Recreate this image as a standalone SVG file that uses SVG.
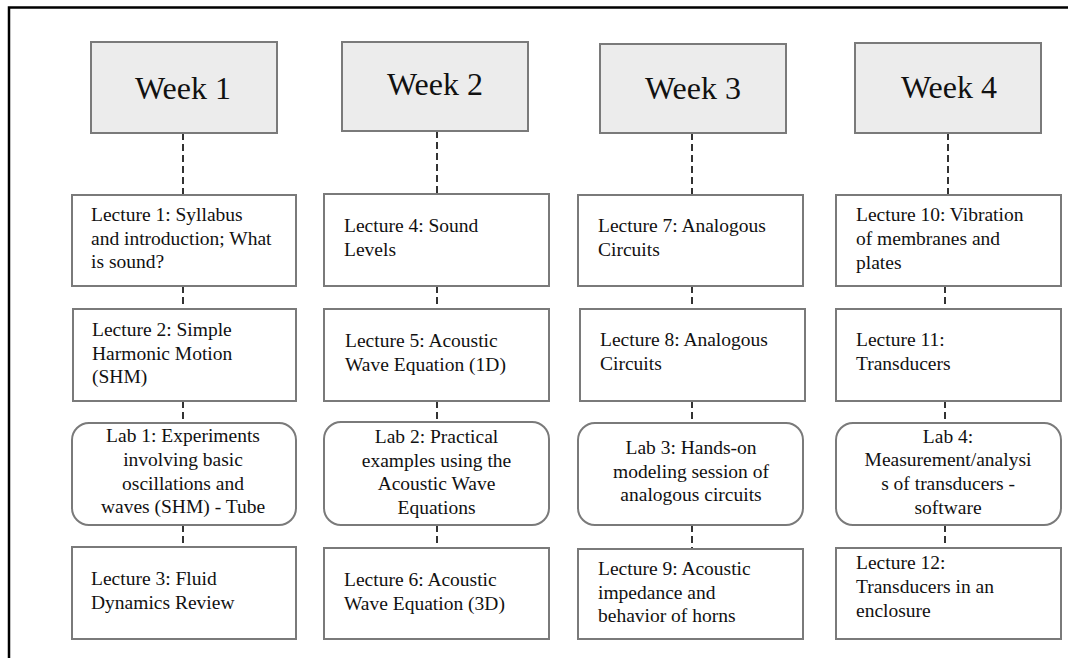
<svg xmlns="http://www.w3.org/2000/svg" width="1068" height="658" viewBox="0 0 1068 658" font-family="Liberation Serif, Times New Roman, serif">
  <style>
    .week { fill: #ececec; stroke: #7a7a7a; stroke-width: 2; }
    .box { fill: #ffffff; stroke: #7a7a7a; stroke-width: 2; }
    .wk { font-size: 32px; fill: #111; text-anchor: middle; }
    .t { font-size: 19.5px; fill: #111; }
    .c { text-anchor: middle; }
    .link { stroke: #333; stroke-width: 2; stroke-dasharray: 7 4; fill: none; }
  </style>
  <rect width="1068" height="658" fill="#ffffff"/>

  <!-- page frame -->
  <path d="M9 658 V7.5 H1068" fill="none" stroke="#000" stroke-width="2.5"/>

  <!-- dashed connectors -->
  <g id="connectors">
    <line class="link" x1="183" y1="133" x2="183" y2="195"/>
    <line class="link" x1="183" y1="286" x2="183" y2="309"/>
    <line class="link" x1="183" y1="401" x2="183" y2="423"/>
    <line class="link" x1="183" y1="525" x2="183" y2="547"/>

    <line class="link" x1="437" y1="131" x2="437" y2="194"/>
    <line class="link" x1="437" y1="286" x2="437" y2="309"/>
    <line class="link" x1="437" y1="401" x2="437" y2="422"/>
    <line class="link" x1="437" y1="525" x2="437" y2="548"/>

    <line class="link" x1="692" y1="133" x2="692" y2="195"/>
    <line class="link" x1="692" y1="286" x2="692" y2="309"/>
    <line class="link" x1="692" y1="401" x2="692" y2="423"/>
    <line class="link" x1="692" y1="525" x2="692" y2="549"/>

    <line class="link" x1="948" y1="133" x2="948" y2="195"/>
    <line class="link" x1="945" y1="286" x2="945" y2="309"/>
    <line class="link" x1="945" y1="401" x2="945" y2="423"/>
    <line class="link" x1="945" y1="525" x2="945" y2="548"/>
  </g>

  <!-- week headers -->
  <g id="week1"><rect class="week" x="91" y="42" width="186" height="91"/><text class="wk" x="183" y="99" font-family="Liberation Serif">Week 1</text></g>
  <g id="week2"><rect class="week" x="342" y="42" width="186" height="89"/><text class="wk" x="435" y="95" font-family="Liberation Serif">Week 2</text></g>
  <g id="week3"><rect class="week" x="600" y="44" width="186" height="89"/><text class="wk" x="693" y="99" font-family="Liberation Serif">Week 3</text></g>
  <g id="week4"><rect class="week" x="855" y="43" width="186" height="90"/><text class="wk" x="949" y="98" font-family="Liberation Serif">Week 4</text></g>

  <!-- week 1 -->
  <g id="lecture1"><rect class="box" x="72" y="195" width="224" height="91"/>
    <text class="t" x="91" y="221">Lecture 1: Syllabus</text>
    <text class="t" x="91" y="244.5">and introduction; What</text>
    <text class="t" x="91" y="268">is sound?</text></g>
  <g id="lecture2"><rect class="box" x="73" y="309" width="223" height="92"/>
    <text class="t" x="92" y="336">Lecture 2: Simple</text>
    <text class="t" x="92" y="359.5">Harmonic Motion</text>
    <text class="t" x="92" y="383">(SHM)</text></g>
  <g id="lab1"><rect class="box" x="72" y="423" width="224" height="102" rx="17"/>
    <text class="t c" x="183" y="442">Lab 1: Experiments</text>
    <text class="t c" x="183" y="465.5">involving basic</text>
    <text class="t c" x="183" y="489.5">oscillations and</text>
    <text class="t c" x="183" y="513">waves (SHM) - Tube</text></g>
  <g id="lecture3"><rect class="box" x="72" y="547" width="224" height="92"/>
    <text class="t" x="91" y="585">Lecture 3: Fluid</text>
    <text class="t" x="91" y="609">Dynamics Review</text></g>

  <!-- week 2 -->
  <g id="lecture4"><rect class="box" x="324" y="194" width="225" height="92"/>
    <text class="t" x="344" y="232">Lecture 4: Sound</text>
    <text class="t" x="344" y="256">Levels</text></g>
  <g id="lecture5"><rect class="box" x="324" y="309" width="225" height="92"/>
    <text class="t" x="345" y="347">Lecture 5: Acoustic</text>
    <text class="t" x="345" y="371">Wave Equation (1D)</text></g>
  <g id="lab2"><rect class="box" x="324" y="422" width="225" height="103" rx="17"/>
    <text class="t c" x="436.5" y="443">Lab 2: Practical</text>
    <text class="t c" x="436.5" y="466.5">examples using the</text>
    <text class="t c" x="436.5" y="490">Acoustic Wave</text>
    <text class="t c" x="436.5" y="513.5">Equations</text></g>
  <g id="lecture6"><rect class="box" x="324" y="548" width="225" height="91"/>
    <text class="t" x="344" y="586">Lecture 6: Acoustic</text>
    <text class="t" x="344" y="610">Wave Equation (3D)</text></g>

  <!-- week 3 -->
  <g id="lecture7"><rect class="box" x="578" y="195" width="225" height="91"/>
    <text class="t" x="598" y="232">Lecture 7: Analogous</text>
    <text class="t" x="598" y="255.5">Circuits</text></g>
  <g id="lecture8"><rect class="box" x="580" y="309" width="225" height="92"/>
    <text class="t" x="600" y="346">Lecture 8: Analogous</text>
    <text class="t" x="600" y="369.5">Circuits</text></g>
  <g id="lab3"><rect class="box" x="578" y="423" width="225" height="102" rx="17"/>
    <text class="t c" x="691" y="453.5">Lab 3: Hands-on</text>
    <text class="t c" x="691" y="477.5">modeling session of</text>
    <text class="t c" x="691" y="501">analogous circuits</text></g>
  <g id="lecture9"><rect class="box" x="578" y="549" width="225" height="90"/>
    <text class="t" x="598" y="574.5">Lecture 9: Acoustic</text>
    <text class="t" x="598" y="598.5">impedance and</text>
    <text class="t" x="598" y="622">behavior of horns</text></g>

  <!-- week 4 -->
  <g id="lecture10"><rect class="box" x="836" y="195" width="225" height="91"/>
    <text class="t" x="856" y="220.5">Lecture 10: Vibration</text>
    <text class="t" x="856" y="244.5">of membranes and</text>
    <text class="t" x="856" y="268.5">plates</text></g>
  <g id="lecture11"><rect class="box" x="836" y="309" width="225" height="92"/>
    <text class="t" x="856" y="346">Lecture 11:</text>
    <text class="t" x="856" y="369.5">Transducers</text></g>
  <g id="lab4"><rect class="box" x="836" y="423" width="225" height="102" rx="17"/>
    <text class="t c" x="948" y="442.5">Lab 4:</text>
    <text class="t c" x="948" y="466">Measurement/analysi</text>
    <text class="t c" x="948" y="489.5">s of transducers -</text>
    <text class="t c" x="948" y="513.5">software</text></g>
  <g id="lecture12"><rect class="box" x="836" y="548" width="225" height="91"/>
    <text class="t" x="856" y="568.5">Lecture 12:</text>
    <text class="t" x="856" y="593">Transducers in an</text>
    <text class="t" x="856" y="617">enclosure</text></g>
</svg>
